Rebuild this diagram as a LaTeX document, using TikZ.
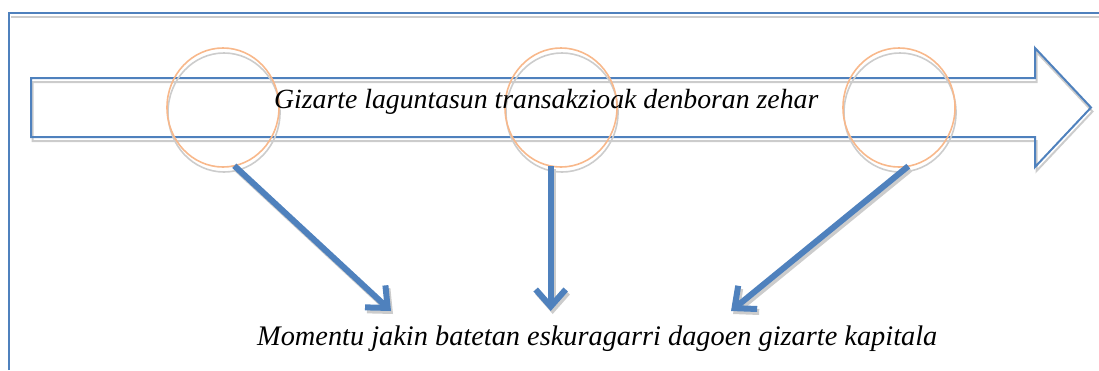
\documentclass[tikz,border=0pt]{standalone}
\usepackage{fontspec}
\setmainfont{Liberation Serif}
\usetikzlibrary{arrows.meta,shapes.geometric}
\definecolor{oblue}{HTML}{4F81BD}
\definecolor{oorange}{HTML}{F8B88B}
\definecolor{shadowgray}{HTML}{CCCCCC}
\begin{document}
\begin{tikzpicture}[x=1pt,y=-1pt,
  lens/.style={ellipse,draw=oorange,line width=1.6pt,minimum width=112pt,minimum height=119pt,inner sep=0pt,outer sep=0pt},
  lensshadow/.style={draw=shadowgray,line width=1.6pt},
  pointer/.style={draw=oblue,line width=6pt,-{Straight Barb[length=17pt,width=30pt]}},
  pointershadow/.style={draw=shadowgray,line width=6pt,-{Straight Barb[length=17pt,width=30pt]}},
  bigshape/.style={line width=2pt,line join=miter},
  txt/.style={font=\itshape,inner sep=0pt,anchor=base west}
]
\useasboundingbox (0,0) rectangle (1099,370);
% frame
\draw[shadowgray,line width=2pt] (11,17) -- (1099,17);
\draw[oblue,line width=2pt] (9,370) -- (9,13) -- (1099,13);
% big arrow
\draw[bigshape,shadowgray,shift={(1.5,4)}] (31,78) -- (1035,78) -- (1035,48) -- (1091,107.5) -- (1035,167) -- (1035,137) -- (31,137) -- cycle;
\draw[bigshape,oblue] (31,78) -- (1035,78) -- (1035,48) -- (1091,107.5) -- (1035,167) -- (1035,137) -- (31,137) -- cycle;
% lenses
\draw[lensshadow] (224,112.5) ellipse [x radius=56,y radius=59.5];
\draw[lensshadow] (562,112.5) ellipse [x radius=56,y radius=59.5];
\draw[lensshadow] (900,112.5) ellipse [x radius=56,y radius=59.5];
\node[lens] (c1) at (223,107.5) {};
\node[lens] (c2) at (561,107.5) {};
\node[lens] (c3) at (899,107.5) {};
% texts
\node[txt] (t1) at (274,108) {\resizebox{544pt}{!}{Gizarte laguntasun transakzioak denboran zehar}};
\node[txt] (t2) at (257,345) {\resizebox{680pt}{!}{Momentu jakin batetan eskuragarri dagoen gizarte kapitala}};
% arrow ends
\coordinate (base) at (0,311);
\coordinate (e1) at (391,311);
\coordinate (e2) at (c2.-100 |- base);
\coordinate (e3) at (731,311);
\draw[pointershadow] ([shift={(2,3)}]c1.-79) -- ([shift={(2,3)}]e1);
\draw[pointershadow] ([shift={(2,3)}]c2.-100) -- ([shift={(2,3)}]e2);
\draw[pointershadow] ([shift={(2,3)}]c3.-81) -- ([shift={(2,3)}]e3);
\draw[pointer] (c1.-79) -- (e1);
\draw[pointer] (c2.-100) -- (e2);
\draw[pointer] (c3.-81) -- (e3);
\end{tikzpicture}
\end{document}
